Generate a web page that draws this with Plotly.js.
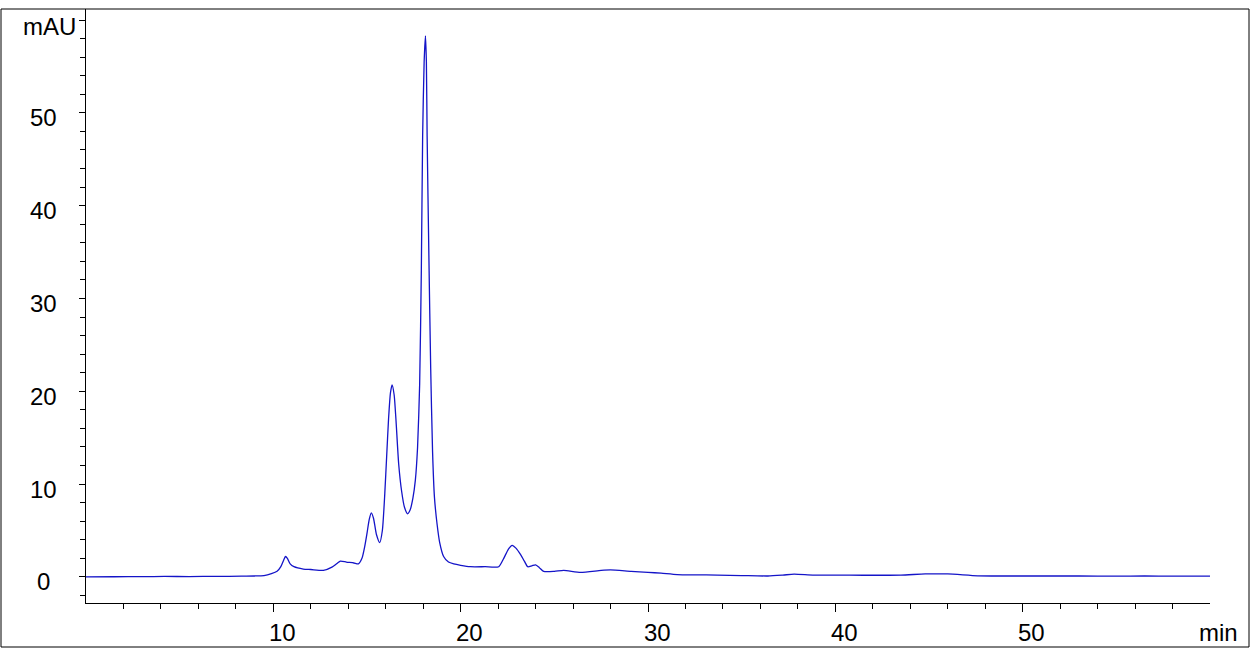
<!DOCTYPE html>
<html>
<head>
<meta charset="utf-8">
<script src="https://cdn.plot.ly/plotly-3.0.1.min.js"></script>
<style>
  html, body { margin: 0; padding: 0; background: #ffffff; }
  #chart { width: 1254px; height: 658px; }
</style>
</head>
<body>
<div id="chart"></div>
<script>
// Retention time (min)
var timeMin = [
  0, 1.5, 3, 4.2, 5.5, 7, 8.3, 9.0, 9.5, 9.9, 10.2, 10.4, 10.55, 10.65, 10.75, 10.9,
  11.1, 11.6, 12.0, 12.67, 13.13, 13.4, 13.58, 13.9, 14.3, 14.54, 14.73, 14.88, 15.0,
  15.12, 15.23, 15.35, 15.5, 15.68, 15.82, 15.95, 16.05, 16.15, 16.25, 16.34, 16.45,
  16.55, 16.69, 16.85, 17.0, 17.17, 17.3, 17.45, 17.58, 17.7, 17.81, 17.9, 17.97,
  18.05, 18.12, 18.17, 18.21, 18.3, 18.4, 18.5, 18.6, 18.74, 18.88, 19.09, 19.35, 19.63,
  20.0, 20.52, 21.3, 22.03, 22.3, 22.55, 22.75, 22.95, 23.2, 23.4, 23.58, 23.8, 24.0,
  24.2, 24.43, 25.0, 25.5, 26.4, 27.5, 28.0, 29.1, 30.0, 30.7, 31.56, 32.5, 33.7, 35.0,
  36.4, 37.2, 37.8, 38.8, 40.0, 41.5, 43.5, 44.8, 46.0, 47.6, 49.0, 51.0, 53.0, 55.0,
  56.5, 58.0, 60.0
];
// Absorbance (mAU)
var absorbanceMAU = [
  0.0, 0.02, 0.03, 0.05, 0.04, 0.06, 0.08, 0.1, 0.15, 0.35, 0.6, 1.1, 1.8, 2.2, 2.0, 1.4,
  1.1, 0.85, 0.8, 0.7, 1.05, 1.45, 1.7, 1.6, 1.5, 1.4, 2.0, 3.3, 4.7,
  6.2, 6.9, 6.3, 4.6, 3.7, 5.0, 9.0, 13.0, 17.0, 19.8, 20.7, 19.6,
  16.8, 12.2, 9.2, 7.5, 6.8, 7.2, 8.5, 10.4, 14.0, 20.7, 33.0, 47.5,
  55.5, 58.3, 55.5, 47.5, 35.0, 22.5, 13.5, 8.6, 5.7, 3.7, 2.2, 1.6, 1.4,
  1.25, 1.1, 1.1, 1.1, 2.0, 3.0, 3.4, 3.1, 2.4, 1.7, 1.1, 1.2, 1.3,
  1.0, 0.6, 0.6, 0.7, 0.5, 0.7, 0.75, 0.6, 0.5, 0.4, 0.25, 0.22, 0.2, 0.15,
  0.1, 0.2, 0.3, 0.2, 0.2, 0.18, 0.2, 0.32, 0.32, 0.12, 0.1, 0.1, 0.1, 0.09,
  0.1, 0.09, 0.08
];

// Axis tick labels
var xLabelVals = [10, 20, 30, 40, 50, 60];
var xLabelText = ['10', '20', '30', '40', '50', 'min'];
var yLabelVals = [0, 10, 20, 30, 40, 50, 60];
var yLabelText = ['0', '10', '20', '30', '40', '50', 'mAU'];

// Tick mark positions on the time axis (no marks at the axis ends 0 and 60)
var xMajorTicks = [10, 20, 30, 40, 50];
var xMinorTicks = [];
for (var t = 2; t < 60; t += 2) { if (t % 10 !== 0) xMinorTicks.push(t); }

var FONT = 'Arial, "Liberation Sans", sans-serif';

var trace = {
  x: timeMin,
  y: absorbanceMAU,
  type: 'scatter',
  mode: 'lines',
  line: { color: '#1414c8', width: 1.3, shape: 'spline', smoothing: 0.6 },
  hoverinfo: 'x+y'
};

var annotations = [];
xLabelVals.forEach(function (v, i) {
  annotations.push({
    x: v, xref: 'x', y: 0, yref: 'paper', yanchor: 'top', xanchor: 'center',
    yshift: -14, xshift: (i === xLabelVals.length - 1) ? 8 : 9,
    text: xLabelText[i], showarrow: false,
    font: { family: FONT, size: 24, color: '#000000' }
  });
});
yLabelVals.forEach(function (v, i) {
  var isUnit = (i === yLabelVals.length - 1);
  annotations.push({
    x: 0, xref: 'paper', y: v, yref: 'y',
    xanchor: isUnit ? 'right' : 'center', yanchor: 'middle',
    xshift: isUnit ? -8 : -43, yshift: isUnit ? -6 : -5,
    text: yLabelText[i], showarrow: false,
    font: { family: FONT, size: 24, color: '#000000' }
  });
});

var layout = {
  width: 1254,
  height: 658,
  margin: { l: 86, r: 44, t: 9, b: 55, pad: 0 },
  paper_bgcolor: '#ffffff',
  plot_bgcolor: '#ffffff',
  showlegend: false,
  font: { family: FONT, size: 24, color: '#000000' },
  xaxis: {
    range: [0, 60],
    showgrid: false, zeroline: false,
    showline: true, linecolor: '#000000', linewidth: 1,
    ticks: 'outside', ticklen: 8, tickwidth: 1, tickcolor: '#000000',
    tickmode: 'array', tickvals: xMajorTicks,
    showticklabels: false,
    minor: { tickmode: 'array', tickvals: xMinorTicks, ticks: 'outside', ticklen: 5, tickwidth: 1, tickcolor: '#000000', showgrid: false }
  },
  yaxis: {
    range: [-2.81, 61.19],
    showgrid: false, zeroline: false,
    showline: true, linecolor: '#000000', linewidth: 1,
    ticks: 'outside', ticklen: 6, tickwidth: 1, tickcolor: '#000000',
    dtick: 10, tick0: 0,
    showticklabels: false,
    minor: { dtick: 2, tick0: 0, ticks: 'outside', ticklen: 5, tickwidth: 1, tickcolor: '#000000', showgrid: false }
  },
  shapes: [{
    type: 'rect', xref: 'paper', yref: 'paper',
    x0: -85 / 1124, x1: 1163 / 1124, y0: -44 / 594, y1: 1,
    line: { color: '#000000', width: 1 }, fillcolor: 'rgba(0,0,0,0)', layer: 'above'
  }],
  annotations: annotations
};

Plotly.newPlot('chart', [trace], layout, { displayModeBar: false, staticPlot: true });
</script>
</body>
</html>
